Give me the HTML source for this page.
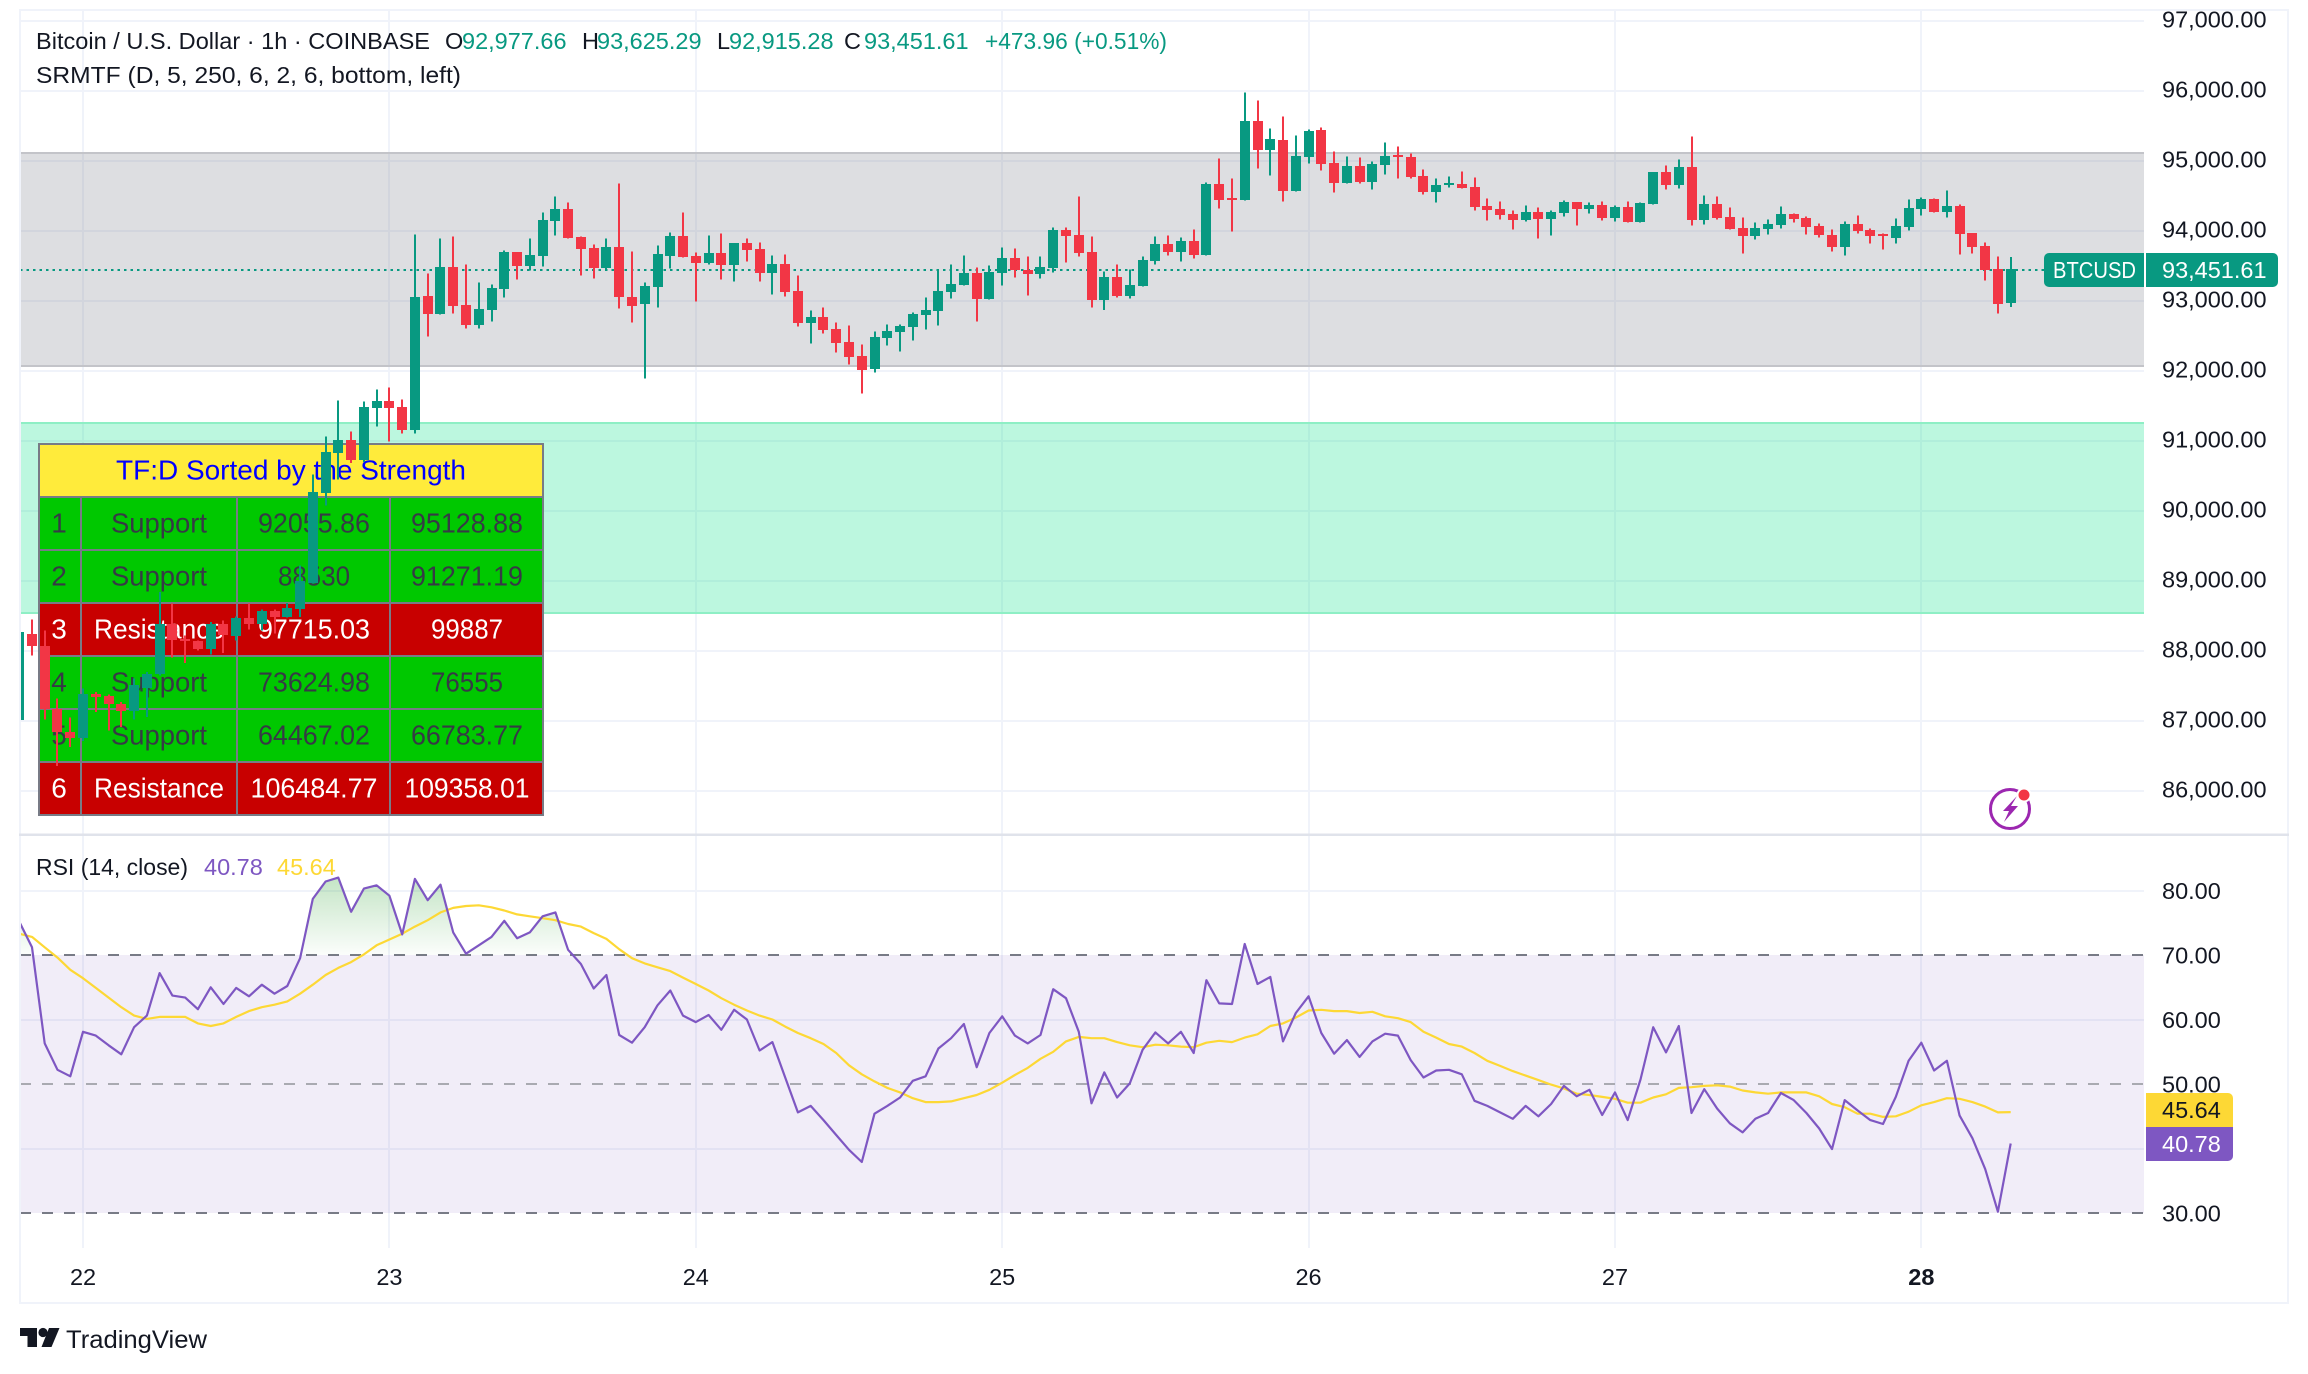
<!DOCTYPE html>
<html lang="en">
<head>
<meta charset="utf-8">
<title>BTCUSD 1h chart</title>
<style>
html,body{margin:0;padding:0;background:#fff;width:2308px;height:1374px;overflow:hidden}
svg{display:block}
text{font-family:"Liberation Sans",sans-serif;font-size:23.5px;fill:#131722}
.cell{font-size:28px;text-anchor:middle;fill:#363a45}
.w{fill:#fff}
.up{fill:#089981}
</style>
</head>
<body>
<svg id="chart" xmlns="http://www.w3.org/2000/svg" width="2308" height="1374" viewBox="0 0 2308 1374">
<defs>
<clipPath id="pane-clip"><rect x="20" y="10" width="2124" height="824"/></clipPath>
<clipPath id="rsi-clip"><rect x="20" y="836" width="2124" height="412"/></clipPath>
<clipPath id="ob-clip"><rect x="20" y="836" width="2124" height="119"/></clipPath>
<linearGradient id="ob-grad" x1="0" y1="870" x2="0" y2="955" gradientUnits="userSpaceOnUse">
<stop offset="0" stop-color="#4caf50" stop-opacity="0.36"/>
<stop offset="1" stop-color="#4caf50" stop-opacity="0.02"/>
</linearGradient>
</defs>

<g id="grid"></g>

<g>
<rect x="20" y="152" width="2124" height="215" fill="rgba(120,123,134,.25)"/>
<rect x="20" y="152" width="2124" height="2" fill="#c3c4c9"/>
<rect x="20" y="365" width="2124" height="2" fill="#c3c4c9"/>
<rect x="20" y="422" width="2124" height="192" fill="rgba(34,230,150,.3)"/>
<rect x="20" y="422" width="2124" height="2" fill="#8eefc5"/>
<rect x="20" y="612" width="2124" height="2" fill="#8eefc5"/>
</g>

<g>
<rect x="38" y="443" width="506" height="373" fill="#787b86"/>
<rect x="40" y="445" width="502" height="51" fill="#ffeb3b"/>
<text x="291" y="479.5" text-anchor="middle" textLength="350" lengthAdjust="spacingAndGlyphs" style="font-size:28px;fill:#0000ff">TF:D Sorted by the Strength</text>

<g>
<rect x="40" y="498" width="40" height="51" fill="#00c800"/><rect x="82" y="498" width="154" height="51" fill="#00c800"/><rect x="238" y="498" width="151" height="51" fill="#00c800"/><rect x="391" y="498" width="151" height="51" fill="#00c800"/>
<text class="cell" x="59" y="532.5">1</text><text class="cell" x="159" y="532.5" textLength="96" lengthAdjust="spacingAndGlyphs">Support</text><text class="cell" x="314" y="532.5" textLength="112" lengthAdjust="spacingAndGlyphs">92055.86</text><text class="cell" x="467" y="532.5" textLength="112" lengthAdjust="spacingAndGlyphs">95128.88</text>
</g>
<g>
<rect x="40" y="551" width="40" height="51" fill="#00c800"/><rect x="82" y="551" width="154" height="51" fill="#00c800"/><rect x="238" y="551" width="151" height="51" fill="#00c800"/><rect x="391" y="551" width="151" height="51" fill="#00c800"/>
<text class="cell" x="59" y="585.5">2</text><text class="cell" x="159" y="585.5" textLength="96" lengthAdjust="spacingAndGlyphs">Support</text><text class="cell" x="314" y="585.5" textLength="72" lengthAdjust="spacingAndGlyphs">88530</text><text class="cell" x="467" y="585.5" textLength="112" lengthAdjust="spacingAndGlyphs">91271.19</text>
</g>
<g>
<rect x="40" y="604" width="40" height="51" fill="#c80000"/><rect x="82" y="604" width="154" height="51" fill="#c80000"/><rect x="238" y="604" width="151" height="51" fill="#c80000"/><rect x="391" y="604" width="151" height="51" fill="#c80000"/>
<text class="cell w" x="59" y="638.5">3</text><text class="cell w" x="159" y="638.5" textLength="130" lengthAdjust="spacingAndGlyphs">Resistance</text><text class="cell w" x="314" y="638.5" textLength="112" lengthAdjust="spacingAndGlyphs">97715.03</text><text class="cell w" x="467" y="638.5" textLength="72" lengthAdjust="spacingAndGlyphs">99887</text>
</g>
<g>
<rect x="40" y="657" width="40" height="51" fill="#00c800"/><rect x="82" y="657" width="154" height="51" fill="#00c800"/><rect x="238" y="657" width="151" height="51" fill="#00c800"/><rect x="391" y="657" width="151" height="51" fill="#00c800"/>
<text class="cell" x="59" y="691.5">4</text><text class="cell" x="159" y="691.5" textLength="96" lengthAdjust="spacingAndGlyphs">Support</text><text class="cell" x="314" y="691.5" textLength="112" lengthAdjust="spacingAndGlyphs">73624.98</text><text class="cell" x="467" y="691.5" textLength="72" lengthAdjust="spacingAndGlyphs">76555</text>
</g>
<g>
<rect x="40" y="710" width="40" height="51" fill="#00c800"/><rect x="82" y="710" width="154" height="51" fill="#00c800"/><rect x="238" y="710" width="151" height="51" fill="#00c800"/><rect x="391" y="710" width="151" height="51" fill="#00c800"/>
<text class="cell" x="59" y="744.5">5</text><text class="cell" x="159" y="744.5" textLength="96" lengthAdjust="spacingAndGlyphs">Support</text><text class="cell" x="314" y="744.5" textLength="112" lengthAdjust="spacingAndGlyphs">64467.02</text><text class="cell" x="467" y="744.5" textLength="112" lengthAdjust="spacingAndGlyphs">66783.77</text>
</g>
<g>
<rect x="40" y="763" width="40" height="51" fill="#c80000"/><rect x="82" y="763" width="154" height="51" fill="#c80000"/><rect x="238" y="763" width="151" height="51" fill="#c80000"/><rect x="391" y="763" width="151" height="51" fill="#c80000"/>
<text class="cell w" x="59" y="797.5">6</text><text class="cell w" x="159" y="797.5" textLength="130" lengthAdjust="spacingAndGlyphs">Resistance</text><text class="cell w" x="314" y="797.5" textLength="127" lengthAdjust="spacingAndGlyphs">106484.77</text><text class="cell w" x="467" y="797.5" textLength="125" lengthAdjust="spacingAndGlyphs">109358.01</text>
</g>
</g>

<line id="last-price-line" x1="20" x2="2044" stroke="#089981" stroke-width="2" stroke-dasharray="2.5 4"/>
<g id="candles" clip-path="url(#pane-clip)" shape-rendering="crispEdges"></g>

<g>
<rect x="20" y="955" width="2124" height="258" fill="rgba(126,87,194,.11)"/>
<line x1="20" x2="2144" y1="955" y2="955" stroke="#787b86" stroke-width="2" stroke-dasharray="11 11"/>
<line x1="20" x2="2144" y1="1084" y2="1084" stroke="#a9aab1" stroke-width="2" stroke-dasharray="11 11"/>
<line x1="20" x2="2144" y1="1213" y2="1213" stroke="#787b86" stroke-width="2" stroke-dasharray="11 11"/>
<path id="rsi-overbought-fill" fill="url(#ob-grad)" clip-path="url(#ob-clip)"/>
<path id="rsi-ma-line" fill="none" stroke="#fdd835" stroke-width="2.2" stroke-linejoin="round" clip-path="url(#rsi-clip)"/>
<path id="rsi-line" fill="none" stroke="#7e57c2" stroke-width="2.2" stroke-linejoin="round" clip-path="url(#rsi-clip)"/>
</g>

<g fill="#f0f3fa">
<rect x="19" y="9" width="2270" height="2"/>
<rect x="19" y="9" width="2" height="1295"/>
<rect x="2287" y="9" width="2" height="1295"/>
<rect x="19" y="1302" width="2270" height="2"/>
<rect x="19" y="833.5" width="2270" height="2.5" fill="#e0e3eb"/>
</g>

<g id="axis-labels"></g>

<g>
<text x="36" y="49" textLength="394" lengthAdjust="spacingAndGlyphs">Bitcoin / U.S. Dollar · 1h · COINBASE</text>
<text x="445" y="49">O</text>
<text class="up" x="462" y="49" style="fill:#089981">92,977.66</text>
<text x="582" y="49">H</text>
<text class="up" x="597" y="49" style="fill:#089981">93,625.29</text>
<text x="717" y="49">L</text>
<text class="up" x="729" y="49" style="fill:#089981">92,915.28</text>
<text x="844" y="49">C</text>
<text class="up" x="864" y="49" style="fill:#089981">93,451.61</text>
<text class="up" x="985" y="49" textLength="182" lengthAdjust="spacingAndGlyphs" style="fill:#089981">+473.96 (+0.51%)</text>
<text x="36" y="83" textLength="425" lengthAdjust="spacingAndGlyphs">SRMTF (D, 5, 250, 6, 2, 6, bottom, left)</text>
</g>

<g>
<text x="36" y="875" textLength="152" lengthAdjust="spacingAndGlyphs">RSI (14, close)</text>
<text x="204" y="875" style="fill:#7e57c2">40.78</text>
<text x="277" y="875" style="fill:#fdd835">45.64</text>
</g>

<g>
<path d="M2144 253H2049a5 5 0 0 0-5 5V282a5 5 0 0 0 5 5H2144Z" fill="#089981"/>
<text x="2053" y="278" textLength="83" lengthAdjust="spacingAndGlyphs" style="fill:#fff">BTCUSD</text>
<path d="M2146 253H2273a5 5 0 0 1 5 5V282a5 5 0 0 1-5 5H2146Z" fill="#089981"/>
<text x="2162" y="278" style="fill:#fff">93,451.61</text>
<path d="M2146 1093H2228a5 5 0 0 1 5 5V1127H2146Z" fill="#fdd835"/>
<text x="2162" y="1118">45.64</text>
<path d="M2146 1127H2233V1156a5 5 0 0 1-5 5H2146Z" fill="#7e57c2"/>
<text x="2162" y="1152" style="fill:#fff">40.78</text>
</g>

<g>
<circle cx="2010" cy="809" r="19.5" fill="#fff" stroke="#9c27b0" stroke-width="3"/>
<path d="M2017 796L2003 811H2009L2004 822L2018 806H2011Z" fill="#9c27b0"/>
<circle cx="2024" cy="795" r="7.5" fill="#fff"/>
<circle cx="2024" cy="795" r="5.5" fill="#f23645"/>
</g>

<g>
<path d="M20 1328H37V1347H27.5V1336H20Z" fill="#131722"/>
<circle cx="43" cy="1332.5" r="4.6" fill="#131722"/>
<path d="M49 1328H59.5L51.5 1347H41.5Z" fill="#131722"/>
<text x="66" y="1348" textLength="141" lengthAdjust="spacingAndGlyphs" style="font-size:25px">TradingView</text>
</g>
</svg>

<script>
const opens = [87010,88248,88067,87167,86843,86758,87391,87358,87248,87144,87472,87667,88382,88177,88139,88025,88382,88210,88472,88382,88568,88482,88601,88977,90258,90829,91010,90725,91467,91567,91482,91153,93067,92810,93481,92938,92652,92867,93167,93695,93495,93638,94138,94310,93910,93752,93467,93767,93052,92952,93195,93638,93924,93638,93538,93681,93510,93824,93738,93395,93524,93138,92681,92767,92595,92410,92210,92024,92467,92552,92624,92795,92852,93124,93224,93395,93024,93395,93610,93439,93382,93467,94010,93939,93696,93010,93339,93067,93210,93568,93810,93696,93853,93653,94667,94467,94439,95567,95153,95296,94567,95053,95439,94967,94682,94925,94696,94939,95082,95053,94782,94553,94658,94667,94625,94353,94310,94239,94153,94267,94167,94253,94410,94310,94367,94182,94339,94125,94381,94838,94653,94910,94153,94381,94195,94038,93924,94024,94081,94238,94181,94067,93938,93767,94095,94010,93953,93895,94053,94310,94453,94267,94353,93967,93781,93452,92977.66];
const closes = [88267,88067,87167,86843,86758,87391,87344,87248,87144,87510,87672,88382,88163,88153,88025,88382,88225,88472,88391,88568,88487,88610,88996,90267,90839,91020,90725,91482,91567,91467,91153,93053,92810,93481,92924,92652,92881,93181,93695,93495,93652,94152,94310,93895,93738,93467,93767,93052,92924,93210,93667,93924,93624,93538,93681,93510,93824,93724,93395,93524,93124,92681,92767,92581,92395,92195,92010,92481,92567,92638,92810,92867,93138,93238,93395,93024,93410,93610,93438,93382,93482,94010,93925,93682,93010,93339,93067,93225,93582,93810,93696,93853,93653,94667,94439,94439,95567,95153,95310,94567,95067,95425,94953,94682,94925,94696,94953,95067,95053,94767,94553,94653,94682,94610,94339,94296,94225,94153,94267,94167,94267,94410,94310,94367,94182,94339,94125,94396,94838,94653,94910,94153,94381,94181,94024,93924,94038,94095,94238,94167,94053,93938,93767,94095,93995,93924,93929,94067,94324,94453,94267,94353,93953,93767,93438,92952,93451.61];
const highs = [88558,88453,88296,87320,87048,87463,87415,87382,87272,87606,87700,88844,88677,88220,88153,88415,88439,88496,88677,88596,88596,88687,89225,90525,91067,91582,91139,91567,91739,91767,91596,93953,93395,93895,93924,93524,93267,93238,93724,93695,93895,94267,94495,94410,93924,93810,93895,94681,93709,93267,93795,93981,94267,93695,93938,93967,93824,93895,93838,93652,93667,93367,92867,92910,92695,92652,92381,92567,92667,92667,92838,93052,93452,93524,93652,93481,93510,93767,93752,93639,93639,94053,94053,94496,93925,93425,93525,93453,93639,93925,93939,93910,94025,94696,95039,94753,95982,95867,95467,95639,95367,95453,95482,95139,95067,95053,94996,95267,95210,95110,94882,94753,94782,94853,94767,94467,94425,94296,94367,94339,94296,94439,94410,94410,94425,94367,94425,94410,94838,94938,95024,95353,94510,94495,94338,94195,94124,94167,94353,94253,94210,94110,94024,94138,94224,94038,93967,94181,94453,94481,94467,94581,94381,93967,93838,93638,93625.29];
const lows = [86939,87939,87024,86358,86629,86715,87129,86867,86915,87024,87058,87653,87905,87829,88010,87953,87972,88153,88310,88296,88248,88477,88487,88963,90082,90453,90686,90700,91210,90996,91110,91110,92495,92810,92824,92610,92610,92709,93052,93310,93438,93495,93938,93895,93367,93324,93438,92895,92695,91895,92910,93467,93624,92995,93524,93310,93281,93567,93281,93095,93067,92638,92395,92538,92267,92095,91681,91981,92367,92281,92438,92595,92652,93038,93224,92710,93024,93224,93338,93082,93325,93410,93553,93639,92910,92868,93053,93039,93210,93525,93653,93567,93610,93653,94325,93996,94439,94896,94796,94425,94567,94967,94867,94553,94682,94682,94596,94810,94753,94753,94525,94410,94625,94610,94296,94153,94167,94025,94139,93896,93939,94210,94082,94253,94153,94139,94125,94125,94381,94595,94610,94081,94095,94167,94024,93681,93881,93953,94038,94124,93953,93910,93710,93653,93967,93824,93738,93824,94010,94224,94267,94195,93667,93681,93295,92824,92915.28];
const rsiValues = [75.2,71.2,56.3,52.2,51.2,58.1,57.5,56.0,54.6,58.8,60.6,67.2,63.7,63.4,61.6,65.0,62.4,64.9,63.6,65.4,64.0,65.2,69.5,78.7,81.4,82.0,76.7,80.3,80.8,79.2,73.2,81.8,78.5,80.9,73.5,70.2,71.5,72.8,75.3,72.6,73.5,76.0,76.6,70.8,68.6,64.8,66.9,57.6,56.4,58.8,62.2,64.5,60.6,59.6,60.7,58.4,61.5,60.0,55.2,56.5,51.0,45.6,46.6,44.4,42.1,39.8,37.9,45.4,46.6,47.9,50.5,51.2,55.5,57.1,59.3,52.6,57.9,60.5,57.5,56.3,57.6,64.7,63.3,58.1,47.0,51.8,47.9,50.1,55.3,58.0,56.3,58.1,54.8,66.1,62.5,62.4,71.7,65.5,66.6,56.6,61.0,63.6,57.9,54.7,56.8,54.2,56.6,57.8,57.5,53.7,51.0,52.1,52.2,51.5,47.4,46.6,45.6,44.6,46.6,45.0,46.9,49.7,48.1,49.1,45.2,48.7,44.4,50.7,58.8,54.9,59.0,45.5,49.2,46.2,43.9,42.5,44.6,45.5,48.6,47.5,45.5,43.1,39.9,47.5,45.9,44.4,43.8,48.0,53.6,56.4,52.1,53.6,45.1,41.6,36.8,30.2,40.78];
const rsiMaValues = [73.3,72.8,71.2,69.6,67.7,66.4,64.9,63.4,61.9,60.6,60.1,60.4,60.4,60.4,59.4,59.0,59.4,60.4,61.3,61.9,62.3,62.8,64.0,65.4,66.9,68.0,68.9,70.1,71.5,72.4,73.3,74.4,75.4,76.6,77.3,77.6,77.7,77.4,76.9,76.3,76.0,75.7,75.4,74.8,74.4,73.4,72.5,70.9,69.5,68.7,68.1,67.5,66.5,65.5,64.5,63.3,62.3,61.4,60.6,60.0,58.9,57.9,57.1,56.2,54.8,52.9,51.5,50.4,49.4,48.7,47.8,47.2,47.2,47.3,47.8,48.3,49.1,50.2,51.4,52.5,53.9,55.0,56.6,57.3,57.1,57.1,56.5,56.0,55.7,56.1,56.0,55.8,55.7,56.4,56.7,56.5,57.2,57.7,59.0,59.4,60.3,61.4,61.5,61.3,61.3,61.0,61.2,60.5,60.2,59.6,58.1,57.2,56.2,55.8,54.8,53.6,52.8,52.0,51.3,50.6,49.9,49.3,48.5,48.3,48.0,47.7,47.1,47.1,47.9,48.4,49.4,49.5,49.7,49.8,49.6,49.0,48.7,48.5,48.7,48.7,48.7,48.1,46.9,46.4,45.4,45.4,44.9,45.0,45.7,46.7,47.2,47.8,47.7,47.2,46.5,45.6,45.64];
const lastPrice = 93451.61;
const priceTicks = [97000,96000,95000,94000,93000,92000,91000,90000,89000,88000,87000,86000];
const priceTickLabels = ["97,000.00","96,000.00","95,000.00","94,000.00","93,000.00","92,000.00","91,000.00","90,000.00","89,000.00","88,000.00","87,000.00","86,000.00"];
const rsiGridTicks = [80,60,40];
const rsiTickValues = [80,70,60,50,30];
const rsiTickLabels = ["80.00","70.00","60.00","50.00","30.00"];
const dayBars = [5,29,53,77,101,125,149];
const dayLabels = ["22","23","24","25","26","27","28"];

const NS = "http://www.w3.org/2000/svg";
const xOf = i => 19.2 + 12.766 * i;
const yPrice = p => 21 + (97000 - p) * 0.07;
const yRsi = v => 955 + (70 - v) * 6.45;
function mk(tag, attrs, parent) {
  const el = document.createElementNS(NS, tag);
  for (const k in attrs) el.setAttribute(k, attrs[k]);
  parent.appendChild(el);
  return el;
}

const grid = document.getElementById("grid");
priceTicks.forEach(p => {
  const el = mk("rect", {x: 20, y: Math.round(yPrice(p)) - 1, width: 2124, height: 2, fill: "#f0f3fa"}, grid);
  
  
});
rsiGridTicks.forEach(v => {
  const el = mk("rect", {x: 20, y: Math.round(yRsi(v)) - 1, width: 2124, height: 2, fill: "#f0f3fa"}, grid);
  
  
});
dayBars.forEach(i => {
  const el = mk("rect", {x: Math.round(xOf(i)) - 1, y: 11, width: 2, height: 1237, fill: "#f0f3fa"}, grid);
  
  
});

const ly = yPrice(lastPrice) + 0.6;
const lastLine = document.getElementById("last-price-line");
lastLine.setAttribute("y1", ly);
lastLine.setAttribute("y2", ly);

const candleGroup = document.getElementById("candles");
opens.forEach((o, i) => {
  const c = closes[i], h = highs[i], l = lows[i];
  const color = c >= o ? "#089981" : "#f23645";
  const cx = Math.round(xOf(i));
  const g = mk("g", {}, candleGroup);
  
  
  const top = Math.round(yPrice(Math.max(o, c)));
  const bot = Math.round(yPrice(Math.min(o, c)));
  const wick = mk("rect", {x: cx - 1, y: yPrice(h), width: 2, height: Math.max(1, yPrice(l) - yPrice(h)), fill: color}, g);
  
  
  const body = mk("rect", {x: cx - 5, y: top, width: 10, height: Math.max(2, bot - top), fill: color}, g);
  
  
});

const toPath = arr => arr.map((v, i) => (i ? "L" : "M") + xOf(i).toFixed(1) + " " + yRsi(v).toFixed(1)).join("");
document.getElementById("rsi-line").setAttribute("d", toPath(rsiValues));
document.getElementById("rsi-ma-line").setAttribute("d", toPath(rsiMaValues));
document.getElementById("rsi-overbought-fill").setAttribute("d",
  toPath(rsiValues) + "L" + xOf(rsiValues.length - 1).toFixed(1) + " " + yRsi(70) + "L" + xOf(0).toFixed(1) + " " + yRsi(70) + "Z");

const labels = document.getElementById("axis-labels");
priceTicks.forEach((p, k) => {
  const el = mk("text", {x: 2162, y: yPrice(p) + 6.5}, labels);
  el.textContent = priceTickLabels[k];
  
  
});
rsiTickValues.forEach((v, k) => {
  const el = mk("text", {x: 2162, y: yRsi(v) + 8.5}, labels);
  el.textContent = rsiTickLabels[k];
  
  
});
dayBars.forEach((b, k) => {
  const el = mk("text", {x: xOf(b), y: 1285, "text-anchor": "middle"}, labels);
  el.textContent = dayLabels[k];
  if (k === dayBars.length - 1) el.setAttribute("font-weight", "700");
  
  
});
</script>
</body>
</html>
